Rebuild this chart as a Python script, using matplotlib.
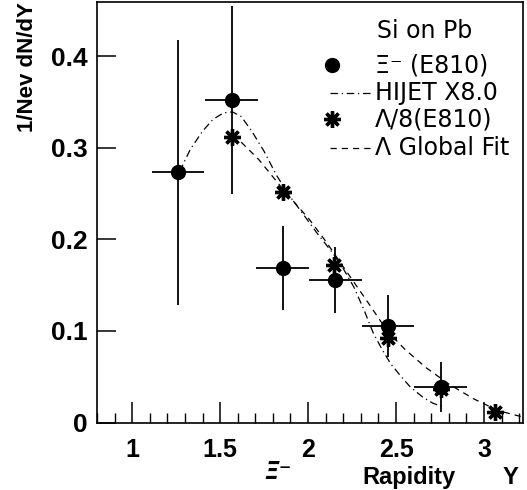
import matplotlib
matplotlib.use("Agg")
import matplotlib.pyplot as plt
from matplotlib.ticker import MultipleLocator
from matplotlib.lines import Line2D

# Xi- (E810) points
xi_y_pos = [1.26, 1.565, 1.855, 2.155, 2.455, 2.755]
xi_dndy = [0.273, 0.352, 0.1685, 0.156, 0.1055, 0.039]
xi_xerr = [0.15, 0.15, 0.15, 0.15, 0.15, 0.15]
xi_yerr = [0.145, 0.103, 0.046, 0.036, 0.034, 0.027]

# Lambda/8 (E810) points
lam_y_pos = [1.565, 1.855, 2.15, 2.455, 2.755, 3.06]
lam_dndy = [0.312, 0.2515, 0.172, 0.092, 0.037, 0.012]

# HIJET x8.0 curve
hijet_x = [1.27, 1.33, 1.40, 1.46, 1.52, 1.57, 1.62, 1.68, 1.75, 1.82, 1.90,
           1.97, 2.05, 2.14, 2.20, 2.26, 2.32, 2.37, 2.42, 2.47, 2.53, 2.58,
           2.65, 2.71, 2.77]
hijet_y = [0.274, 0.298, 0.318, 0.331, 0.338, 0.339, 0.334, 0.318, 0.296,
           0.270, 0.246, 0.228, 0.207, 0.185, 0.168, 0.148, 0.122, 0.098,
           0.080, 0.064, 0.050, 0.039, 0.028, 0.021, 0.017]

# Lambda global fit curve
fit_x = [1.62, 1.72, 1.86, 2.01, 2.10, 2.20, 2.33, 2.45, 2.55, 2.67, 2.80,
         2.94, 3.08, 3.22]
fit_y = [0.306, 0.287, 0.254, 0.221, 0.198, 0.170, 0.134, 0.100, 0.080,
         0.060, 0.042, 0.026, 0.013, 0.006]

fig = plt.figure(figsize=(5.27, 4.90), dpi=100)
ax = fig.add_axes([97 / 527, 1 - 422.5 / 490, (523 - 97) / 527, (422.5 - 2) / 490])

ax.plot(hijet_x, hijet_y, color='black', lw=0.9, dashes=[6, 3, 1, 3])
ax.plot(fit_x, fit_y, color='black', lw=0.9, dashes=[5, 4])
ax.errorbar(xi_y_pos, xi_dndy, xerr=xi_xerr, yerr=xi_yerr, fmt='o', color='black',
            ms=10, elinewidth=1.3, capsize=0)
ax.plot(lam_y_pos, lam_dndy, ls='none', marker=(8, 2, 0), color='black',
        ms=12, mew=2.4)

ax.set_xlim(0.8, 3.222)
ax.set_ylim(0, 0.459)
ax.xaxis.set_minor_locator(MultipleLocator(0.1))
ax.set_yticks([0, 0.1, 0.2, 0.3, 0.4])
ax.set_yticklabels(['0', '0.1', '0.2', '0.3', '0.4'])
ax.set_xticks([1, 1.5, 2, 2.5, 3])
ax.set_xticklabels(['1', '1.5', '2', '2.5', '3'])
ax.tick_params(axis='x', which='major', direction='in', length=15, width=1.1,
               pad=11, labelsize=18)
ax.tick_params(axis='x', which='minor', direction='in', length=7.5, width=1.0)
ax.tick_params(axis='y', which='major', direction='in', length=14, width=1.1,
               pad=7, labelsize=19)
for lab in ax.get_xticklabels() + ax.get_yticklabels():
    lab.set_fontweight('bold')
    lab.set_fontfamily('Liberation Sans')
for s in ax.spines.values():
    s.set_linewidth(1.2)

ax.set_ylabel('1/Nev dN/dY', fontsize=16, fontweight='bold',
              family='Liberation Sans', loc='top')
ax.yaxis.set_label_coords(-0.139, 1.0)

fig.text(362 / 527, 1 - 477 / 490, 'Rapidity', fontsize=17, fontweight='bold',
         family='Liberation Sans', va='center', ha='left')
fig.text(503 / 527, 1 - 477 / 490, 'Y', fontsize=17, fontweight='bold',
         family='Liberation Sans', va='center', ha='left')
fig.text(264 / 527, 1 - 472 / 490, '\u039e\u207b', fontsize=17, fontweight='bold',
         style='italic', va='center', ha='left')

# legend block
tx = 375 / 527
fs = 17
fig.text(377 / 527, 1 - 31 / 490, 'Si on Pb', fontsize=fs, va='center', ha='left')
fig.text(tx, 1 - 65 / 490, '\u039e\u207b (E810)', fontsize=fs, va='center', ha='left')
fig.text(tx, 1 - 93 / 490, 'HIJET X8.0', fontsize=fs, va='center', ha='left')
fig.text(tx, 1 - 119 / 490, '\u039b/8(E810)', fontsize=fs, va='center', ha='left')
fig.text(tx, 1 - 148 / 490, '\u039b Global Fit', fontsize=fs, va='center', ha='left')
fig.add_artist(Line2D([332 / 527], [1 - 65 / 490], marker='o', color='black', ms=10,
                      transform=fig.transFigure))
fig.add_artist(Line2D([332 / 527], [1 - 119 / 490], marker=(8, 2, 0), color='black',
                      ms=12, mew=2.4, transform=fig.transFigure))
fig.add_artist(Line2D([330 / 527, 372 / 527], [1 - 93 / 490] * 2, color='black', lw=0.9,
                      dashes=[6, 3, 1, 3], transform=fig.transFigure))
fig.add_artist(Line2D([330 / 527, 372 / 527], [1 - 148 / 490] * 2, color='black', lw=0.9,
                      dashes=[5, 4], transform=fig.transFigure))

fig.savefig('out.png', dpi=100)
